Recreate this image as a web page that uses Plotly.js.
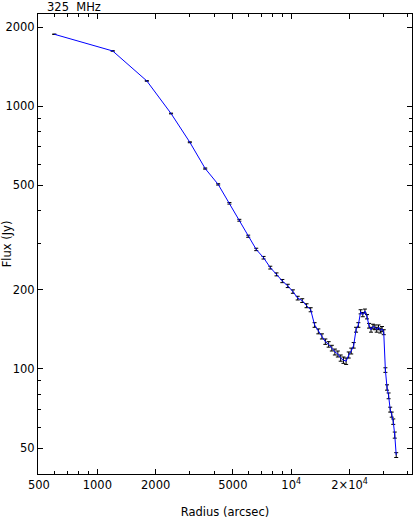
<!DOCTYPE html>
<html>
<head>
<meta charset="utf-8">
<script src="https://cdn.plot.ly/plotly-3.0.1.min.js"></script>
<style>
  html, body { margin: 0; padding: 0; background: #fff; }
  #chart { width: 415px; height: 519px; }
</style>
</head>
<body>
<div id="chart"></div>
<script>
// Radial profile at 325 MHz, bins every 600 arcsec
const radius = [
    600, 1200, 1800, 2400, 3000, 3600, 4200, 4800, 5400, 6000,
    6600, 7200, 7800, 8400, 9000, 9600, 10200, 10800, 11400, 12000,
    12600, 13200, 13800, 14400, 15000, 15600, 16200, 16800, 17400, 18000,
    18600, 19200, 19800, 20400, 21000, 21600, 22200, 22800, 23400, 24000,
    24600, 25200, 25800, 26400, 27000, 27600, 28200, 28800, 29400, 30000,
    30600, 31200, 31800, 32400, 33000, 33600, 34200, 34800
];
const flux = [
    1879, 1623, 1248, 938, 729, 579, 504, 427, 368, 320,
    285, 265, 243, 229, 216, 207, 197, 186, 182, 174,
    168, 147, 139, 133, 127, 124, 120, 116, 114, 110,
    108, 107, 113, 117, 123, 141, 147, 165, 161, 166,
    158, 146, 141, 145, 144, 141, 144, 140, 142, 138,
    99, 85, 79, 70, 67, 63, 56, 47
];
const fluxErr = [
    3, 3, 3, 3, 3, 3, 3, 3, 3, 3,
    3, 3, 3, 3, 3, 3, 3, 3, 3, 3,
    3, 3, 3, 3, 3, 3, 3, 3, 3, 3,
    3, 3, 3, 3, 3, 3, 3, 3, 3, 3,
    3, 3, 3, 3, 3, 3, 3, 3, 3, 3,
    2, 2, 2, 1.5, 1.5, 1.5, 1.5, 1
];

// axis ticks
const xTickVals = [500, 1000, 2000, 5000, 10000, 20000];
const xTickText = ['500', '1000', '2000', '5000', '10<sup>4</sup>', '2×10<sup>4</sup>'];
const xMinorVals = [600, 700, 800, 900, 3000, 4000, 6000, 7000, 8000, 9000, 30000, 40000];
const yTickVals = [50, 100, 200, 500, 1000, 2000];
const yTickText = ['50', '100', '200', '500', '1000', '2000'];
const yMinorVals = [60, 70, 80, 90, 300, 400, 600, 700, 800, 900];

const font = { family: 'DejaVu Sans, sans-serif', size: 11.5, color: '#000' };

const trace = {
    x: radius,
    y: flux,
    type: 'scatter',
    mode: 'lines',
    line: { color: '#0000ff', width: 1 },
    error_y: {
        type: 'data',
        array: fluxErr,
        visible: true,
        color: '#000',
        thickness: 1,
        width: 2
    },
    hoverinfo: 'x+y'
};

const axisCommon = {
    type: 'log',
    showgrid: false,
    zeroline: false,
    showline: true,
    linecolor: '#000',
    linewidth: 1,
    mirror: 'allticks',
    ticks: 'inside',
    ticklen: 5,
    tickwidth: 1,
    tickcolor: '#000',
    tickmode: 'array',
    tickfont: font
};

const layout = {
    width: 415,
    height: 519,
    margin: { l: 38, r: 3, t: 14, b: 45 },
    paper_bgcolor: '#fff',
    plot_bgcolor: '#fff',
    showlegend: false,
    font: font,
    xaxis: Object.assign({}, axisCommon, {
        range: [2.694, 4.623],
        tickvals: xTickVals,
        ticktext: xTickText,
        minor: { tickmode: 'array', tickvals: xMinorVals, ticks: 'inside', ticklen: 3, tickcolor: '#000' },
        title: { text: 'Radius (arcsec)', font: font, standoff: 20 }
    }),
    yaxis: Object.assign({}, axisCommon, {
        range: [1.600, 3.351],
        tickvals: yTickVals,
        ticktext: yTickText,
        minor: { tickmode: 'array', tickvals: yMinorVals, ticks: 'inside', ticklen: 3, tickcolor: '#000' },
        title: { text: 'Flux (Jy)', font: font, standoff: 6 }
    }),
    annotations: [{
        text: '325  MHz',
        xref: 'paper', yref: 'paper',
        x: 0.02, y: 1.0,
        xanchor: 'left', yanchor: 'bottom',
        yshift: -2,
        showarrow: false,
        font: font
    }]
};

Plotly.newPlot('chart', [trace], layout, { displayModeBar: false, staticPlot: true });
</script>
</body>
</html>
